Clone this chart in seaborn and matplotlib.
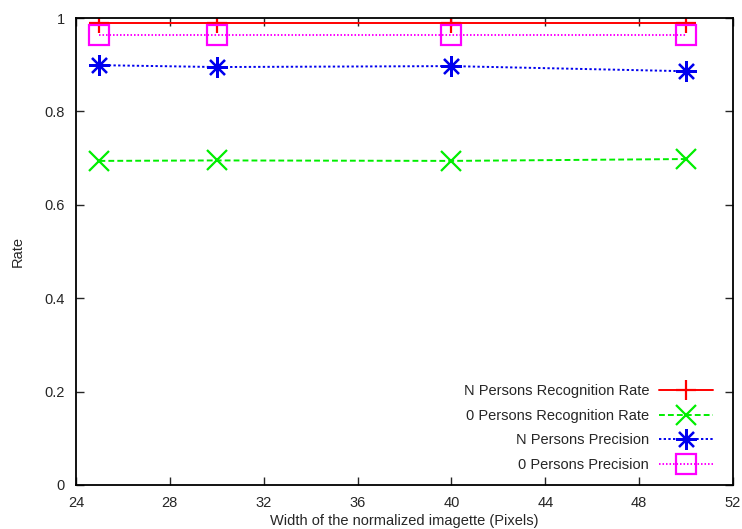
import pandas as pd
import numpy as np
import matplotlib.pyplot as plt
import seaborn as sns

widths = [25, 30, 40, 50]
n_recog = [0.990, 0.990, 0.990, 0.990]
zero_recog = [0.694, 0.695, 0.694, 0.698]
n_prec = [0.899, 0.895, 0.897, 0.886]
zero_prec = [0.963, 0.963, 0.963, 0.963]

labels = ["N Persons Recognition Rate", "0 Persons Recognition Rate",
          "N Persons Precision", "0 Persons Precision"]

sns.set_style("ticks")
plt.rcParams['font.family'] = ['Liberation Sans', 'DejaVu Sans']

fig = plt.figure(figsize=(7.42, 5.29), dpi=100)
ax = fig.add_axes([76/742, 44/529, 657/742, 467/529])

styles = [
    (n_recog, "#ff0000", "-", "+", 15),
    (zero_recog, "#00ee00", (0, (3, 1.6)), "x", 14),
    (n_prec, "#0000ee", (0, (1.2, 1.2)), (8, 2, 0), 15),
    (zero_prec, "#ff00ff", (0, (0.8, 1.0)), "s", 14),
]
for (vals, col, ls, mk, ms), lab in zip(styles, labels):
    sns.lineplot(x=widths, y=vals, ax=ax, color=col, linestyle=ls, linewidth=1.4,
                 marker=mk, markersize=ms, markerfacecolor='none',
                 markeredgecolor=col, markeredgewidth=1.6, label=lab)

ax.set_xlim(24, 52)
ax.set_ylim(0, 1)
ax.set_xticks(np.arange(24, 53, 4))
ax.set_yticks([0, 0.2, 0.4, 0.6, 0.8, 1])
ax.set_yticklabels(["0", "0.2", "0.4", "0.6", "0.8", "1"])
ax.tick_params(direction='in', top=True, right=True, length=6, labelsize=10.5, pad=8, width=1)
for s in ax.spines.values():
    s.set_linewidth(1.3)
    s.set_color("black")
ax.set_xlabel("Width of the normalized imagette (Pixels)", fontsize=10.5, labelpad=3)
ax.set_ylabel("Rate", fontsize=10.5, labelpad=14)

leg = ax.legend(loc='lower right', frameon=False, markerfirst=False, fontsize=10.5,
                handlelength=3.7, labelspacing=0.72, handletextpad=0.7,
                borderaxespad=0.5, bbox_to_anchor=(0.99, 0.0))

plt.savefig("out.png", dpi=100)
